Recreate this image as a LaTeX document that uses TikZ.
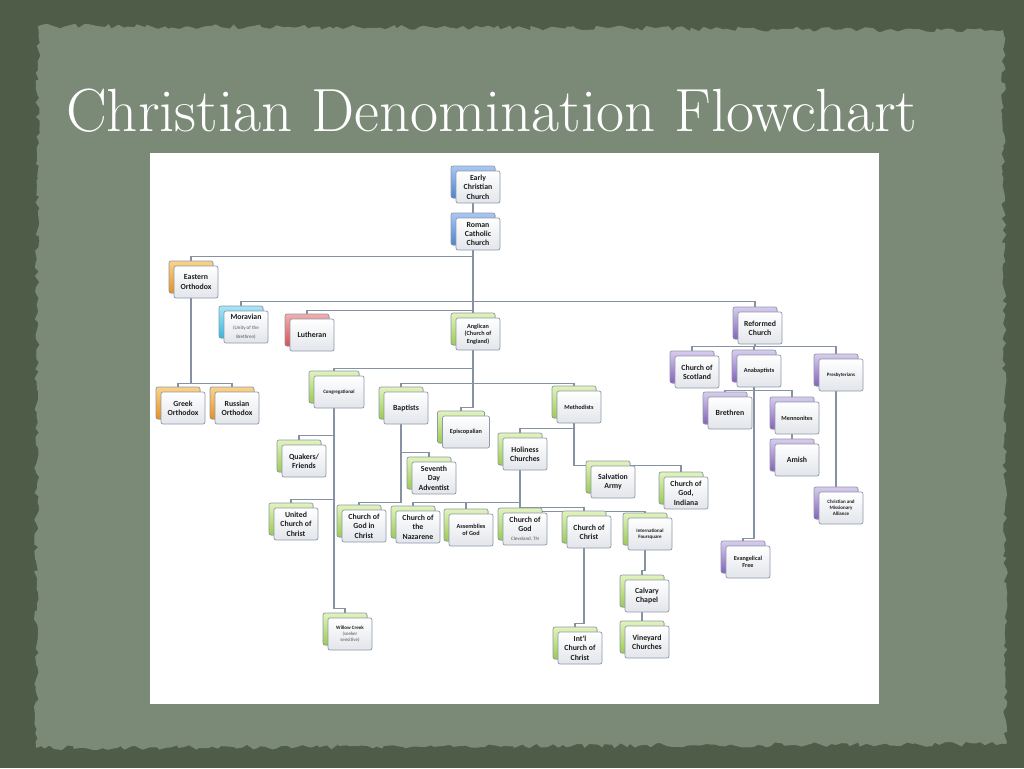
\documentclass[tikz,border=0pt]{standalone}
\usepackage{fontspec}
\newfontfamily\cardfont{Carlito}
\usetikzlibrary{shadows,decorations.pathmorphing}
\pgfdeclarelayer{back}
\pgfdeclarelayer{lines}
\pgfsetlayers{back,lines,main}
\definecolor{outerbg}{HTML}{4E5C48}
\definecolor{panelbg}{HTML}{7B8977}
\definecolor{cardline}{HTML}{8E99AA}
\definecolor{cardbot}{HTML}{E2E5EA}
\definecolor{connc}{HTML}{8692A3}
\definecolor{textc}{HTML}{1E1E1E}
\definecolor{subc}{HTML}{555555}
\definecolor{bluel}{HTML}{A9C8F2}\definecolor{blued}{HTML}{4F82D2}
\definecolor{orangel}{HTML}{FAD48A}\definecolor{oranged}{HTML}{E99020}
\definecolor{cyanl}{HTML}{A6E6F6}\definecolor{cyand}{HTML}{34B6DE}
\definecolor{redl}{HTML}{F2AEAE}\definecolor{redd}{HTML}{D65252}
\definecolor{greenl}{HTML}{E2F3BC}\definecolor{greend}{HTML}{9CCB52}
\definecolor{purplel}{HTML}{D9CCEE}\definecolor{purpled}{HTML}{8462BA}
\newcommand\szS{\fontsize{6.2}{7.4}\selectfont}
\newcommand\szT{\fontsize{5}{6.2}\selectfont}
\newcommand\subtext{\mdseries\szT\color{subc}}
\tikzset{
  card/.style={draw=cardline, line width=0.7pt, rounded corners=2pt,
    top color=white, bottom color=cardbot, minimum width=44pt,
    minimum height=32pt, inner sep=1pt, align=center, text=textc,
    font=\cardfont\bfseries\fontsize{7.8}{9.4}\selectfont},
  behindcard/.style 2 args={copy shadow={shadow xshift=-5pt, shadow yshift=5pt,
    draw=cardline, line width=0.6pt, top color=#1, bottom color=#2}},
  bluecard/.style={behindcard={bluel}{blued}},
  orangecard/.style={behindcard={orangel}{oranged}},
  cyancard/.style={behindcard={cyanl}{cyand}},
  redcard/.style={behindcard={redl}{redd}},
  greencard/.style={behindcard={greenl}{greend}},
  purplecard/.style={behindcard={purplel}{purpled}},
  smalltxt/.style={font=\cardfont\bfseries\szS},
  tinytxt/.style={font=\cardfont\bfseries\szT},
  conn/.style={draw=connc, line width=1.6pt},
}
\newcommand\mkcard[5][]{%
  \node[card,#4,#1] (#2) at #3 {#5};
  \coordinate (#2-t) at ([xshift=-5pt,yshift=5pt]#2.north);
  \coordinate (#2-b) at ([xshift=-5pt]#2.south);
}
\begin{document}
\begin{tikzpicture}[x=1pt,y=-1pt]
\useasboundingbox (0,0) rectangle (1024,768);
\begin{pgfonlayer}{back}
\fill[outerbg] (0,0) rectangle (1024,768);
\pgfmathsetseed{12}
\fill[panelbg, decorate, decoration={random steps, segment length=5pt, amplitude=2.5pt}]
  (38,26) -- (1003,30) -- (1006,744) -- (36,748) -- cycle;
\fill[white] (150,153) rectangle (879,704);
\end{pgfonlayer}

\node[anchor=base west, text=white, inner sep=0pt, font=\fontsize{61}{66}\selectfont] (title) at (66,131) {Christian Denomination Flowchart};

\mkcard{ecc}{(478,187)}{bluecard}{Early\\Christian\\Church}
\mkcard{rcc}{(478,234)}{bluecard}{Roman\\Catholic\\Church}
\mkcard{eo}{(196,282)}{orangecard}{Eastern\\Orthodox}
\mkcard{mor}{(246,327)}{cyancard}{Moravian\\{\subtext (Unity of the}\\{\subtext Brethren)}}
\mkcard{lut}{(312,335)}{redcard}{Lutheran}
\mkcard[smalltxt]{ang}{(478,334)}{greencard}{Anglican\\(Church of\\England)}
\mkcard{ref}{(760,328)}{purplecard}{Reformed\\Church}
\mkcard{go}{(183,408)}{orangecard}{Greek\\Orthodox}
\mkcard{ro}{(237,408)}{orangecard}{Russian\\Orthodox}
\mkcard[tinytxt,minimum width=50pt]{cong}{(339,392)}{greencard}{Congregational}
\mkcard{bap}{(406,408)}{greencard}{Baptists}
\mkcard[smalltxt,minimum width=47pt]{epi}{(466,432)}{greencard}{Episcopalian}
\mkcard[smalltxt]{meth}{(579,407)}{greencard}{Methodists}
\mkcard{qua}{(304,461)}{greencard}{Quakers/\\Friends}
\mkcard{ucc}{(296,524)}{greencard}{United\\Church of\\Christ}
\mkcard{sda}{(434,478)}{greencard}{Seventh\\Day\\Adventist}
\mkcard{cogic}{(364,526)}{greencard}{Church of\\God in\\Christ}
\mkcard{naz}{(418,527)}{greencard}{Church of\\the\\Nazarene}
\mkcard{hol}{(525,454)}{greencard}{Holiness\\Churches}
\mkcard{sal}{(613,482)}{greencard}{Salvation\\Army}
\mkcard{ind}{(686,493)}{greencard}{Church of\\God,\\Indiana}
\mkcard[smalltxt]{aog}{(471,530)}{greencard}{Assemblies\\of God}
\mkcard{cog}{(525,529)}{greencard}{Church of\\God\\{\subtext Cleveland, TN}}
\mkcard{coc}{(589,532)}{greencard}{Church of\\Christ}
\mkcard[tinytxt]{ifs}{(650,534)}{greencard}{International\\Foursquare}
\mkcard[tinytxt]{wc}{(350,634)}{greencard}{Willow Creek\\{\subtext (seeker}\\{\subtext sensitive)}}
\mkcard{icoc}{(580,648)}{greencard}{Int'l\\Church of\\Christ}
\mkcard{cal}{(647,596)}{greencard}{Calvary\\Chapel}
\mkcard{vin}{(647,642)}{greencard}{Vineyard\\Churches}
\mkcard{cos}{(697,372)}{purplecard}{Church of\\Scotland}
\mkcard[smalltxt]{ana}{(759,371)}{purplecard}{Anabaptists}
\mkcard[tinytxt]{pres}{(841,375)}{purplecard}{Presbyterians}
\mkcard{bre}{(730,413)}{purplecard}{Brethren}
\mkcard[smalltxt]{men}{(797,418)}{purplecard}{Mennonites}
\mkcard{ami}{(797,460)}{purplecard}{Amish}
\mkcard[tinytxt]{cma}{(841,508)}{purplecard}{Christian and\\Missionary\\Alliance}
\mkcard[smalltxt]{ef}{(748,562)}{purplecard}{Evangelical\\Free}

\begin{pgfonlayer}{lines}
\draw[conn] (ecc-b) -- (rcc-t);
\draw[conn] (rcc-b) -- ++(0,6) -| (eo-t);
\draw[conn] (rcc-b) -- ++(0,51) -| (mor-t);
\draw[conn] (rcc-b) -- ++(0,51) -| (ref-t);
\draw[conn] (rcc-b) -- ++(0,60) -| (lut-t);
\draw[conn] (rcc-b) -- (ang-t);
\draw[conn] (eo-b) -- ++(0,85) -| (go-t);
\draw[conn] (eo-b) -- ++(0,85) -| (ro-t);
\draw[conn] (ang-b) -- ++(0,18) -| (cong-t);
\draw[conn] (ang-b) -- ++(0,33) -| (bap-t);
\draw[conn] (ang-b) -- ++(0,33) -| (meth-t);
\draw[conn] (ang-b) -- ++(0,57) -| (epi-t);
\draw[conn] (cong-b) -- ++(0,27) -| (qua-t);
\draw[conn] (cong-b) -- ++(0,91) -| (ucc-t);
\draw[conn] (cong-b) -- ++(0,200) -| (wc-t);
\draw[conn] (bap-b) -- ++(0,28) -| (sda-t);
\draw[conn] (bap-b) -- ++(0,78) -| (cogic-t);
\draw[conn] (meth-b) -- ++(0,5) -| (hol-t);
\draw[conn] (meth-b) -- ++(0,42) -| (sal-t);
\draw[conn] (meth-b) -- ++(0,42) -| (ind-t);
\draw[conn] (hol-b) -- ++(0,32) -| (naz-t);
\draw[conn] (hol-b) -- ++(0,32) -| (aog-t);
\draw[conn] (hol-b) -- (cog-t);
\draw[conn] (hol-b) -- ++(0,37) -| (coc-t);
\draw[conn] (hol-b) -- ++(0,41) -| (ifs-t);
\draw[conn] (coc-b) -- ++(0,75) -| (icoc-t);
\draw[conn] (ifs-b) -- ++(0,20) -| (cal-t);
\draw[conn] (cal-b) -- (vin-t);
\draw[conn] (ref-b) -- ++(0,2) -| (cos-t);
\draw[conn] (ref-b) -- ++(0,2) -| (ana-t);
\draw[conn] (ref-b) -- ++(0,2) -| (pres-t);
\draw[conn] (ana-b) -- ++(0,3) -| (bre-t);
\draw[conn] (ana-b) -- ++(0,3) -| (men-t);
\draw[conn] (ana-b) -- ++(0,151) -| (ef-t);
\draw[conn] (men-b) -- (ami-t);
\draw[conn] (pres-b) -- (cma-t);
\end{pgfonlayer}
\end{tikzpicture}
\end{document}
